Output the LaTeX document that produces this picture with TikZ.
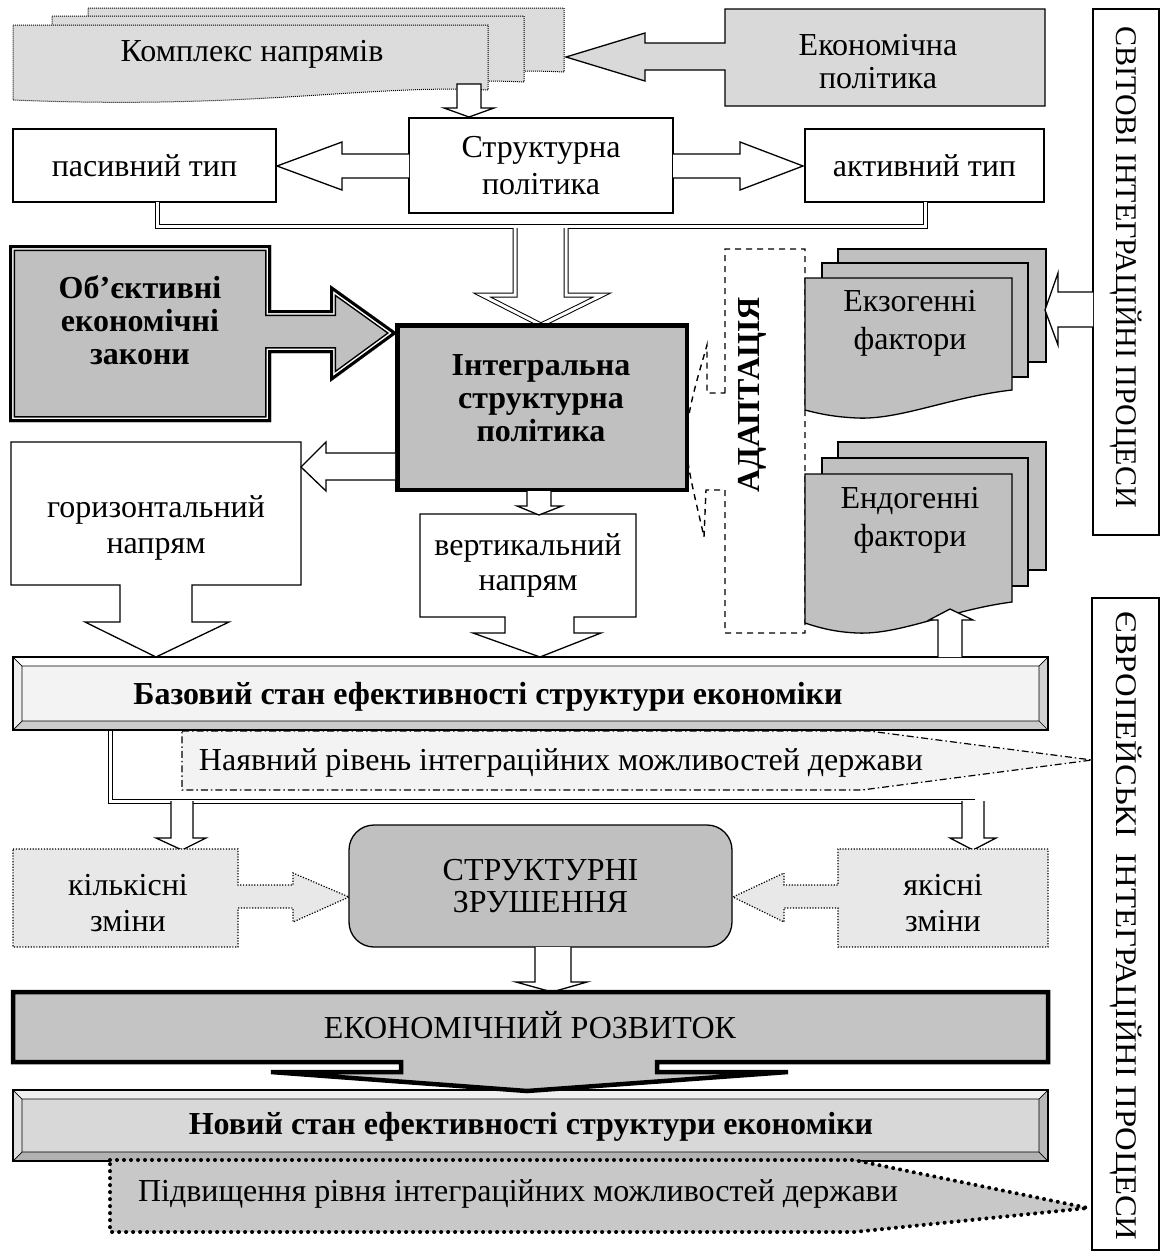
\documentclass[tikz,border=0pt]{standalone}
\usepackage{fontspec}
\setmainfont{Liberation Serif}
\usepackage{graphicx}
\newcommand\fsz[2]{\fontsize{#1}{#2}\selectfont}
\definecolor{gA}{HTML}{C0C0C0}
\definecolor{gK}{HTML}{DCDCDC}
\definecolor{gE}{HTML}{D9D9D9}
\definecolor{gQ}{HTML}{E8E8E8}
\definecolor{gL}{HTML}{F3F3F3}
\definecolor{gR}{HTML}{C4C4C4}
\definecolor{gN}{HTML}{D8D8D8}
\definecolor{gP}{HTML}{C8C8C8}
\begin{document}
\begin{tikzpicture}[x=1pt,y=-1pt,line join=miter,
  ln/.style={draw=black,line width=1.3pt},
  bx/.style={ln,fill=white,inner sep=0pt,outer sep=0pt,anchor=north west,align=center,font={\fsz{32}{37}}},
  txt/.style={align=center,inner sep=0pt,font={\fsz{32}{37}}},
  btxt/.style={align=center,inner sep=0pt,font={\fsz{32}{34}\bfseries}},
  dbl/.style={draw=black,line width=1pt,double=white,double distance=3pt},
  dotln/.style={draw=black,line width=1.2pt,dash pattern=on 1.2pt off 1.6pt},
  kdot/.style={draw=black,line width=1pt,dash pattern=on 1pt off 1pt},
  dashln/.style={draw=black,line width=1.4pt,dash pattern=on 6pt off 5pt},
  dashdotln/.style={draw=black,line width=1.2pt,dash pattern=on 7pt off 3pt on 1.5pt off 3pt},
  bigdot/.style={draw=black,line width=4pt,line cap=round,dash pattern=on 0pt off 7pt},
  thick5/.style={draw=black,line width=4.5pt}]
\useasboundingbox (0,0) rectangle (1165,1254);

% ---------- Комплекс напрямів (stack)
\path[kdot,fill=gK] (88,8) -- (564,8) -- (564,72) .. controls (450,66) and (330,92) .. (88,86) -- cycle;
\path[kdot,fill=gK] (52,16) -- (524,16) -- (524,82) .. controls (410,76) and (290,102) .. (52,94) -- cycle;
\path[kdot,fill=gK] (13,25) -- (488,25) -- (488,90) .. controls (370,84) and (250,110) .. (13,100) -- cycle;
\node[txt] (kompl) at (252,54) {Комплекс напрямів};

% ---------- Економічна політика (callout left)
\path[ln,fill=gE] (1045,9) -- (1045,106) -- (725,106) -- (725,70) -- (645,70) -- (645,81) -- (566,57) -- (645,33) -- (645,43) -- (725,43) -- (725,9) -- cycle;
\node[txt,font={\fsz{32}{33}}] (econpol) at (878,62) {Економічна\\політика};

% ---------- Структурна політика and types
\node[bx,minimum width=264,minimum height=95] (strukt) at (409,118) {Структурна\\політика};
\node[bx,minimum width=263,minimum height=73] (pas) at (13,129) {пасивний тип};
\node[bx,minimum width=239,minimum height=73] (act) at (805,129) {активний тип};

% arrow kompl -> strukt
\path[ln,fill=white] (457,84) -- (457,108) -- (444,108) -- (469,117) -- (494,108) -- (481,108) -- (481,84) -- cycle;
% arrows strukt -> pas / act
\path[ln,fill=white] (409,154) -- (342,154) -- (342,142) -- (277,166) -- (342,190) -- (342,178) -- (409,178);
\path[ln,fill=white] (673,154) -- (740,154) -- (740,142) -- (803,166) -- (740,190) -- (740,178) -- (673,178);

% double connector
\draw[dbl] (157,202) -- (157,226) -- (925,226) -- (925,202);
% big double arrow to integral
\path[fill=white] (515,227) -- (515,295) -- (482,295) -- (541,325) -- (602,295) -- (566,295) -- (566,227) -- cycle;
\draw[dbl] (515,228) -- (515,295) -- (482,295) -- (541,325) -- (602,295) -- (566,295) -- (566,228);

% ---------- Об'єктивні економічні закони
\def\objp{(9,245) -- (271,245) -- (271,310) -- (330,310) -- (330,285) -- (397,333) -- (330,382) -- (330,353) -- (271,353) -- (271,422) -- (9,422) -- cycle}
\fill[gA] \objp;
\begin{scope}
\clip \objp;
\draw[line width=12pt] \objp;
\draw[white,line width=9pt] \objp;
\draw[line width=6pt] \objp;
\end{scope}
\node[btxt,font={\fsz{32}{33}\bfseries}] (obj) at (140,320) {Об’єктивні\\економічні\\закони};

% ---------- Інтегральна структурна політика
\node[thick5,fill=gA,minimum width=289.5,minimum height=164.5,inner sep=0pt,outer sep=0pt] (integr) at (542,407.5) {};
\node[btxt,font={\fsz{32}{33}\bfseries}] (integrT) at (541,398) {Інтегральна\\структурна\\політика};

% ---------- горизонтальний напрям
\path[ln,fill=white] (11,442) -- (301,442) -- (301,585) -- (192,585) -- (192,622) -- (229,622) -- (156,657) -- (85,622) -- (120,622) -- (120,585) -- (11,585) -- cycle;
\node[txt,font={\fsz{32}{36}}] (horiz) at (156,528) {горизонтальний\\напрям};
\path[ln,fill=white] (395,453) -- (326,453) -- (326,442) -- (301,467) -- (326,491) -- (326,480) -- (395,480);

% ---------- вертикальний напрям
\path[ln,fill=white] (420,514) -- (636,514) -- (636,617) -- (574,617) -- (574,633) -- (601,633) -- (540,657) -- (473,633) -- (505,633) -- (505,617) -- (420,617) -- cycle;
\node[txt,font={\fsz{32}{35}}] (vert) at (528,565) {вертикальний\\напрям};
\path[ln,fill=white] (527,491) -- (527,506) -- (517,506) -- (539,515) -- (562,506) -- (551,506) -- (551,491);

% ---------- АДАПТАЦІЯ
\draw[dashln] (725,393) -- (725,249) -- (805,249) -- (805,633) -- (725,633) -- (725,490) -- (706,490) -- (704,537) .. controls (697,505) and (686,465) .. (686,440) .. controls (687,410) and (700,370) .. (707,345) -- (707,393) -- cycle;
\node[btxt,rotate=90] (adapt) at (752,395) {АДАПТАЦІЯ};

% ---------- Екзогенні фактори
\path[ln,fill=gA] (838,249) rectangle (1046,362);
\path[ln,fill=gA] (822,263) rectangle (1028,377);
\path[ln,fill=gA] (805,278) -- (1012,278) -- (1012,390) .. controls (950,397) and (900,420) .. (857,418) .. controls (835,417) and (820,414) .. (805,410) -- cycle;
\node[txt,font={\fsz{32}{38}}] (exo) at (910,323) {Екзогенні\\фактори};

% ---------- Ендогенні фактори
\path[ln,fill=gA] (838,442) rectangle (1046,570);
\path[ln,fill=gA] (822,458) rectangle (1028,586);
\path[ln,fill=gA] (805,474) -- (1012,474) -- (1012,602) .. controls (950,610) and (900,635) .. (857,633) .. controls (835,632) and (820,628) .. (805,623) -- cycle;
\node[txt,font={\fsz{32}{38}}] (endo) at (910,520) {Ендогенні\\фактори};

% ---------- right vertical boxes
\node[bx,minimum width=66,minimum height=526] (svit) at (1093,9) {};
\node[inner sep=0pt,rotate=-90,font={\fsz{30}{30}}] (svitT) at (1126,267) {СВІТОВІ ІНТЕГРАЦІЙНІ ПРОЦЕСИ};
\node[bx,minimum width=67,minimum height=652] (evr) at (1092,598) {};
\node[inner sep=0pt,rotate=-90,font={\fsz{30}{30}}] (evrT) at (1126,926) {\scalebox{1.09}[1]{ЄВРОПЕЙСЬКІ\ \ ІНТЕГРАЦІЙНІ ПРОЦЕСИ}};
\path[ln,fill=white] (1093,292) -- (1058,292) -- (1058,273) -- (1045,310) -- (1058,345) -- (1058,327) -- (1093,327);

% ---------- Базовий стан (bevel bar)
\fill[gL] (13,657) rectangle (1048,730);
\fill[white] (13,657) -- (1048,657) -- (1039,666) -- (22,666) -- cycle;
\fill[gray!12] (13,657) -- (22,666) -- (22,721) -- (13,730) -- cycle;
\fill[gray!35] (1048,657) -- (1048,730) -- (1039,721) -- (1039,666) -- cycle;
\fill[gray!40] (13,730) -- (1048,730) -- (1039,721) -- (22,721) -- cycle;
\draw[ln] (13,657) rectangle (1048,730);
\draw[black,line width=0.7pt] (22,666) rectangle (1039,721) (13,657) -- (22,666) (1048,657) -- (1039,666) (13,730) -- (22,721) (1048,730) -- (1039,721);
\node[btxt] (baz) at (488,697) {Базовий стан ефективності структури економіки};
% up arrow to endogenous
\path[ln,fill=white] (938,657) -- (938,620) -- (929,620) -- (950,609) -- (973,620) -- (962,620) -- (962,657);

% ---------- Наявний рівень
\path[dashdotln,fill=gL] (182,731) -- (869,731) -- (1092,760) -- (862,790) -- (182,790) -- cycle;
\node[txt] (nay) at (561,763) {Наявний рівень інтеграційних можливостей держави};

% double connector + arrows
\draw[dbl] (110,731) -- (110,801) -- (975,801);
\path[ln,fill=white] (171,801) -- (171,838) -- (156,838) -- (182,850) -- (206,838) -- (193,838) -- (193,801);
\path[ln,fill=white] (962,801) -- (962,838) -- (950,838) -- (973,850) -- (996,838) -- (984,838) -- (984,801);

% ---------- кількісні / якісні зміни
\path[dotln,fill=gQ] (13,849) -- (238,849) -- (238,885) -- (293,885) -- (293,873) -- (349,897) -- (293,922) -- (293,908) -- (238,908) -- (238,947) -- (13,947) -- cycle;
\node[txt,font={\fsz{32}{36}}] (kilk) at (128,903) {кількісні\\зміни};
\path[dotln,fill=gQ] (1048,849) -- (838,849) -- (838,885) -- (784,885) -- (784,873) -- (733,897) -- (784,922) -- (784,908) -- (838,908) -- (838,947) -- (1048,947) -- cycle;
\node[txt,font={\fsz{32}{36}}] (yak) at (943,903) {якісні\\зміни};

% ---------- СТРУКТУРНІ ЗРУШЕННЯ
\node[ln,fill=gA,rounded corners=25pt,minimum width=383,minimum height=122,inner sep=0pt,align=center,font={\fsz{32}{32}}] (shifts) at (540.5,886) {СТРУКТУРНІ\\ЗРУШЕННЯ};
\path[ln,fill=white] (535,947) -- (535,982) -- (516,982) -- (552,992) -- (587,982) -- (571,982) -- (571,947);

% ---------- Новий стан (bevel bar)
\fill[gN] (13,1090) rectangle (1048,1161);
\fill[gray!12] (13,1090) -- (1048,1090) -- (1039,1099) -- (22,1099) -- cycle;
\fill[gray!25] (13,1090) -- (22,1099) -- (22,1152) -- (13,1161) -- cycle;
\fill[gray!55] (1048,1090) -- (1048,1161) -- (1039,1152) -- (1039,1099) -- cycle;
\fill[gray!60] (13,1161) -- (1048,1161) -- (1039,1152) -- (22,1152) -- cycle;
\draw[ln] (13,1090) rectangle (1048,1161);
\draw[black,line width=0.7pt] (22,1099) rectangle (1039,1152) (13,1090) -- (22,1099) (1048,1090) -- (1039,1099) (13,1161) -- (22,1152) (1048,1161) -- (1039,1152);
\node[btxt] (novyi) at (531,1127) {Новий стан ефективності структури економіки};

% ---------- ЕКОНОМІЧНИЙ РОЗВИТОК
\path[thick5,fill=gR] (13,992) -- (1048,992) -- (1048,1062) -- (657,1062) -- (657,1072) -- (788,1072) -- (527,1091) -- (271,1072) -- (401,1072) -- (401,1062) -- (13,1062) -- cycle;
\node[txt] (econ) at (530,1025) {ЕКОНОМІЧНИЙ РОЗВИТОК};

% ---------- Підвищення рівня
\path[bigdot,fill=gP] (110,1160) -- (854,1160) -- (1088,1208) -- (854,1232) -- (110,1232) -- cycle;
\node[txt] (pidv) at (518,1194) {Підвищення рівня інтеграційних можливостей держави};
\end{tikzpicture}
\end{document}
